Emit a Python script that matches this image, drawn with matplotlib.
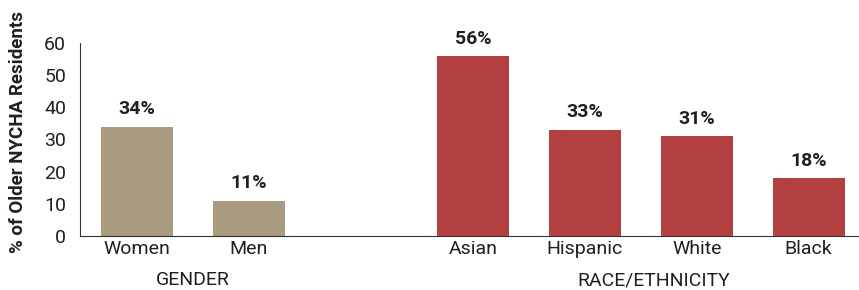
import matplotlib.pyplot as plt
from matplotlib import font_manager

# data
categories = ["Women", "Men", "Asian", "Hispanic", "White", "Black"]
values = [34, 11, 56, 33, 31, 18]
positions = [0, 1, 3, 4, 5, 6]
groups = ["GENDER", "RACE/ETHNICITY"]
group_pos = [0.5, 4.62]
colors = ["#a99b7f", "#a99b7f", "#b54042", "#b54042", "#b54042", "#b54042"]

names = {f.name for f in font_manager.fontManager.ttflist}
fam = "Liberation Sans Narrow" if "Liberation Sans Narrow" in names else "Roboto"
plt.rcParams["font.family"] = [fam, "DejaVu Sans"]
txt = "#231f20"

fig = plt.figure(figsize=(8.59, 2.90), dpi=100)
ax = fig.add_axes([80 / 859, 1 - 236 / 290, 779 / 859, 193 / 290])

ax.bar(positions, values, width=0.643, color=colors)
for x, v in zip(positions, values):
    ax.text(x, v + 2.6, f"{v}%", ha="center", va="bottom", fontsize=14,
            fontweight="bold", color=txt)

ax.set_xlim(-0.51, 6.45)
ax.set_ylim(0, 60)
ax.set_yticks(range(0, 61, 10))
ax.set_xticks(positions)
ax.set_xticklabels(categories)
ax.tick_params(axis="both", length=0, labelsize=14, colors=txt)
ax.tick_params(axis="x", pad=3)
ax.tick_params(axis="y", pad=10)
for s in ["top", "right"]:
    ax.spines[s].set_visible(False)
ax.spines["left"].set_color("#333333")
ax.spines["bottom"].set_color("#333333")

for g, gx in zip(groups, group_pos):
    ax.text(gx, -0.228, g, transform=ax.get_xaxis_transform(), ha="center",
            va="center", fontsize=14, color=txt)

fig.text(18 / 859, 1 - 132 / 290, "% of Older NYCHA Residents", rotation=90,
         ha="center", va="center", fontsize=13.5, fontweight="bold", color=txt)

fig.savefig("out.png", dpi=100)
